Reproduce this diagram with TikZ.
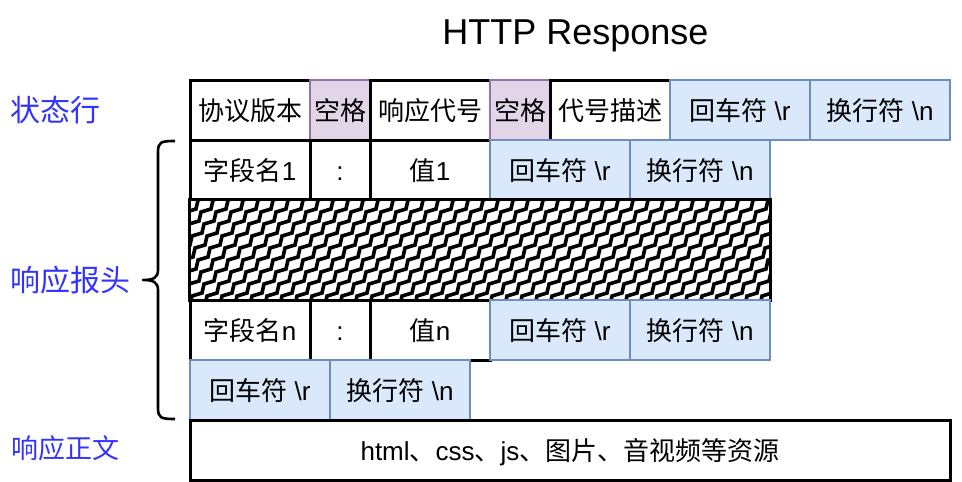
\documentclass[tikz,border=0pt]{standalone}
\usepackage{fontspec}
\setmainfont{Liberation Sans}
\newfontfamily\cjk{Noto Sans CJK SC}
\newcommand\zh[1]{{\cjk #1}}
\definecolor{bfill}{HTML}{DAE8FC}
\definecolor{bline}{HTML}{6C8EBF}
\definecolor{pfill}{HTML}{E1D5E7}
\definecolor{pline}{HTML}{9673A6}
\definecolor{labblue}{HTML}{3333FF}
\begin{document}
\begin{tikzpicture}[x=1pt,y=-1pt,
  cell/.style={draw=black, line width=3pt, fill=white, minimum height=60pt, inner sep=0pt,
    text height=22pt, text depth=2pt, font=\fontsize{26}{30}\selectfont},
  bcell/.style={cell, draw=bline, fill=bfill, line width=2.2pt},
  pcell/.style={cell, draw=pline, fill=pfill, line width=2.2pt},
  sidelab/.style={anchor=west, inner sep=0pt, text=labblue, text height=25pt, text depth=2pt,
    font=\fontsize{30}{34}\selectfont\cjk}]
\useasboundingbox (0,0) rectangle (962,482);

% title
\node[anchor=base, inner sep=0pt, font=\fontsize{36}{40}\selectfont] (title) at (575.5,44) {HTTP Response};

% side labels
\node[sidelab] (l1) at (10,110) {状态行};
\node[sidelab] (l2) at (10,280) {响应报头};
\node[sidelab, font=\fontsize{27}{31}\selectfont\cjk, text height=22.5pt, text depth=2pt] (l3) at (11,448) {响应正文};

% row 1: status line
\node[cell, minimum width=120pt] (a1) at (250,110) {\zh{协议版本}};
\node[pcell, minimum width=60pt] (a2) at (340,110) {\zh{空格}};
\node[cell, minimum width=120pt] (a3) at (430,110) {\zh{响应代号}};
\node[pcell, minimum width=60pt] (a4) at (520,110) {\zh{空格}};
\node[cell, minimum width=120pt] (a5) at (610,110) {\zh{代号描述}};
\node[bcell, minimum width=140pt] (a6) at (740,110) {\zh{回车符} \textbackslash r};
\node[bcell, minimum width=140pt] (a7) at (880,110) {\zh{换行符} \textbackslash n};

% row 2: header 1
\node[cell, minimum width=120pt] (b1) at (250,170) {\zh{字段名}1};
\node[cell, minimum width=60pt] (b2) at (340,170) {:};
\node[cell, minimum width=120pt] (b3) at (430,170) {\zh{值}1};
\node[bcell, minimum width=140pt] (b4) at (560,170) {\zh{回车符} \textbackslash r};
\node[bcell, minimum width=140pt] (b5) at (700,170) {\zh{换行符} \textbackslash n};

% hatched block
\node[fill=white, minimum width=580pt, minimum height=100pt, inner sep=0pt] (hatch) at (480,250) {};
\begin{scope}
  \clip (hatch.north west) rectangle (hatch.south east);
  \foreach \s in {60,75,...,780} {
    \draw[line width=3.6pt] (\s,308) \foreach \i in {1,...,10}{ -- ++(10,-3) -- ++(2,-9) };
  }
\end{scope}
\draw[line width=3pt] (hatch.north west) rectangle (hatch.south east);

% row 3: header n
\node[cell, minimum width=120pt] (c1) at (250,330) {\zh{字段名}n};
\node[cell, minimum width=60pt] (c2) at (340,330) {:};
\node[cell, minimum width=120pt] (c3) at (430,330) {\zh{值}n};
\node[bcell, minimum width=140pt] (c4) at (560,330) {\zh{回车符} \textbackslash r};
\node[bcell, minimum width=140pt] (c5) at (700,330) {\zh{换行符} \textbackslash n};

% row 4: empty line
\node[bcell, minimum width=140pt] (d1) at (260,390) {\zh{回车符} \textbackslash r};
\node[bcell, minimum width=140pt] (d2) at (400,390) {\zh{换行符} \textbackslash n};

% row 5: body
\node[cell, minimum width=760pt] (e1) at (570,450) {html\zh{、}css\zh{、}js\zh{、图片、音视频等资源}};

% brace
\draw[line width=2.6pt, line join=round]
  (175,141) .. controls (161,141) and (158,142) .. (158,152)
  -- (158,270) .. controls (158,278) and (153,280) .. (143,280)
  .. controls (153,280) and (158,282) .. (158,290)
  -- (158,408) .. controls (158,418) and (161,419) .. (175,419);
\end{tikzpicture}
\end{document}
